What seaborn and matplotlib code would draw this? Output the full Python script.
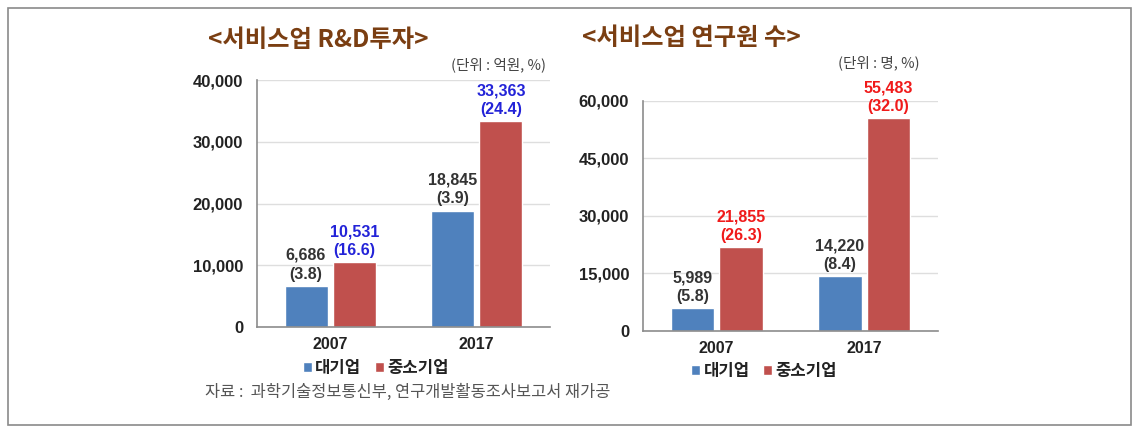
import matplotlib
matplotlib.use("Agg")
import matplotlib.pyplot as plt
import pandas as pd
import seaborn as sns
from matplotlib.patches import Rectangle

sns.set_theme(style="white")

NUM_FONT = ["Liberation Sans", "Noto Sans CJK KR", "DejaVu Sans"]
KR_FONT = ["Noto Sans CJK KR", "DejaVu Sans"]
plt.rcParams["font.family"] = NUM_FONT

W, H = 1140, 433

# ---------------------------------------------------------
# data

years = ["2007", "2017"]
groups = ["대기업", "중소기업"]

rnd_large = [6686, 18845]
rnd_small = [10531, 33363]
rnd_large_pct = [3.8, 3.9]
rnd_small_pct = [16.6, 24.4]

res_large = [5989, 14220]
res_small = [21855, 55483]
res_large_pct = [5.8, 8.4]
res_small_pct = [26.3, 32.0]

rnd_ticks = [0, 10000, 20000, 30000, 40000]
res_ticks = [0, 15000, 30000, 45000, 60000]

BLUE = "#4F81BD"
RED = "#C0504D"
BROWN = "#7A3E12"


def long_frame(large, small):
    return pd.DataFrame({
        "Year": years * 2,
        "Group": [groups[0]] * 2 + [groups[1]] * 2,
        "Value": list(large) + list(small),
    })


def px(x, y):
    # pixel position (from top-left) -> figure fraction
    return x / W, 1 - y / H


def draw_panel(ax, large, small, large_pct, small_pct, ticks, small_color,
               legend_x, legend_y):

    df = long_frame(large, small)

    sns.barplot(
        data=df, x="Year", y="Value", hue="Group",
        palette=[BLUE, RED], width=0.66, gap=0.11,
        saturation=1, legend=False, ax=ax
    )

    ax.set_ylim(0, ticks[-1])
    ax.set_xlim(-0.5, 1.5)
    ax.set_yticks(ticks)
    ax.set_yticklabels([f"{t:,}" for t in ticks],
                       fontsize=12, fontweight="bold", color="#222222")
    ax.set_xticks(range(len(years)))
    ax.set_xticklabels(years, fontsize=11.5, fontweight="bold", color="#222222")
    ax.tick_params(axis="y", length=0, pad=10)
    ax.tick_params(axis="x", length=0, pad=7)
    ax.set_xlabel("")
    ax.set_ylabel("")

    ax.yaxis.grid(True, color="#dedede", linewidth=1)
    ax.set_axisbelow(True)
    for side in ["top", "right"]:
        ax.spines[side].set_visible(False)
    for side in ["left", "bottom"]:
        ax.spines[side].set_color("#8c8c8c")
        ax.spines[side].set_linewidth(1.2)

    labels_large = [f"{v:,}\n({p})" for v, p in zip(large, large_pct)]
    labels_small = [f"{v:,}\n({p})" for v, p in zip(small, small_pct)]
    ax.bar_label(ax.containers[0], labels=labels_large, padding=3,
                 fontsize=11.5, fontweight="bold", color="#333333",
                 linespacing=1.3)
    ax.bar_label(ax.containers[1], labels=labels_small, padding=3,
                 fontsize=11.5, fontweight="bold", color=small_color,
                 linespacing=1.3)

    leg = ax.legend(
        [c[0] for c in ax.containers], groups,
        loc="center", bbox_to_anchor=(legend_x, legend_y), ncol=2,
        frameon=False, handlelength=0.55, handleheight=0.55,
        handletextpad=0.2, columnspacing=0.8,
        prop={"family": KR_FONT, "size": 12, "weight": "bold"}
    )
    for t in leg.get_texts():
        t.set_color("#222222")


fig = plt.figure(figsize=(11.4, 4.33), dpi=100)

ax1 = fig.add_axes([0.2254, 0.2448, 0.257, 0.5704])
ax2 = fig.add_axes([0.5640, 0.2356, 0.2588, 0.5312])

draw_panel(ax1, rnd_large, rnd_small, rnd_large_pct, rnd_small_pct,
           rnd_ticks, "#2323D8", 0.405, -0.165)
draw_panel(ax2, res_large, res_small, res_large_pct, res_small_pct,
           res_ticks, "#F01A1A", 0.41, -0.175)

# titles and units
fig.text(*px(208, 40), "<서비스업 R&D투자>", family=KR_FONT, fontsize=17.5,
         fontweight="bold", color=BROWN, ha="left", va="center")
fig.text(*px(582, 38), "<서비스업 연구원 수>", family=KR_FONT, fontsize=17.5,
         fontweight="bold", color=BROWN, ha="left", va="center")
fig.text(*px(546, 65), "(단위 : 억원, %)", family=KR_FONT, fontsize=10.5,
         color="#444444", ha="right", va="center")
fig.text(*px(920, 63), "(단위 : 명, %)", family=KR_FONT, fontsize=10.5,
         color="#444444", ha="right", va="center")

fig.text(*px(205, 392), "자료 :  과학기술정보통신부, 연구개발활동조사보고서 재가공",
         family=KR_FONT, fontsize=11.8, color="#555555", ha="left", va="center")

fig.patches.append(Rectangle((0.007, 0.018), 0.985, 0.964, transform=fig.transFigure,
                             fill=False, edgecolor="#8a8a8a", linewidth=1.2))

fig.savefig("out.png", dpi=100)
